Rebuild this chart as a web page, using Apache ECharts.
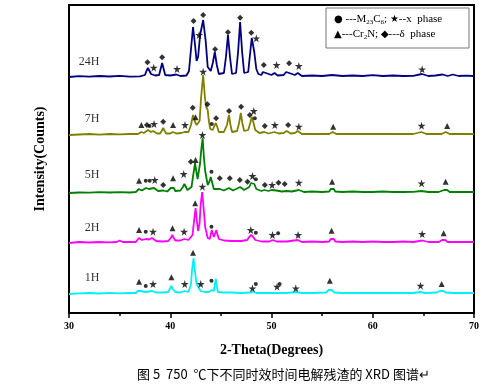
<!DOCTYPE html>
<html><head><meta charset="utf-8">
<script src="https://cdn.jsdelivr.net/npm/echarts@6/dist/echarts.min.js"></script>
<style>html,body{margin:0;padding:0;background:#fff}#c{width:500px;height:384px}</style>
</head><body><div id="c"></div>
<script>
// ---- data ----
const samples = ['1H', '2H', '5H', '7H', '24H'];
const offsets = [19, 70, 120, 178, 236];           // vertical stacking offset (intensity units)
const labelHeights = [15.7, 14.7, 18, 15.7, 15];    // sample label height above baseline
const colors = ['#00F0F8', '#FF00FF', '#008000', '#808000', '#000080'];
const xTicks = [30, 40, 50, 60, 70];

const pattern1H = [[30,0],[31,0.6],[32,1],[33,0.5],[34,1.2],[35,0.6],[36,1],[36.6,1],[36.8,3],[36.9,5],[37.05,3],[37.2,1.5],[37.6,2],[38.2,3],[38.6,1.5],[39.3,1.5],[39.8,2],[39.95,5],[40.1,8],[40.25,5],[40.5,2],[41,1.5],[41.4,3],[41.8,2],[42.05,10],[42.15,24],[42.3,36],[42.45,22],[42.6,10],[43,3],[43.4,2],[43.8,2],[44.1,4],[44.3,3],[44.4,9],[44.5,15],[44.6,8],[44.7,2],[45.3,1.5],[46,1.5],[47,1],[48,1.5],[48.2,2.5],[48.5,1],[49.5,1],[50.5,1],[51.5,1],[52.4,2],[53,1],[54,1],[55.4,1.5],[55.65,4],[55.8,6],[55.95,4],[56.2,1.5],[57,1],[58,1],[59,1],[60,1],[61,1],[62,1],[63,1],[64,1],[64.7,2],[65.2,1],[66.3,1.5],[66.65,3],[66.8,4],[66.95,3],[67.2,1.5],[68,1],[69,1],[70,1]];
const pattern2H = [[30,0],[31,1],[32,0.5],[33,1],[34,0.6],[34.7,1],[35,2.5],[35.3,1],[36,1],[36.6,1],[36.9,5],[37.2,3],[37.6,4],[37.9,3.5],[38.2,5],[38.6,2],[39.2,1.5],[39.8,2],[40.05,5],[40.2,8],[40.35,5],[40.5,2.5],[41,2.5],[41.4,4],[41.8,3],[42.2,8],[42.35,22],[42.5,35],[42.65,20],[42.75,12],[42.9,20],[43.0,38],[43.15,51],[43.3,34],[43.45,16],[43.7,5],[43.9,4],[44.1,13],[44.3,6],[44.45,10],[44.55,13],[44.65,9],[44.8,4],[45.3,2.5],[46,2],[47,2],[47.6,3],[47.8,6],[48,8],[48.2,6],[48.4,3],[49,1.5],[49.8,1.5],[50.1,3],[50.5,1.5],[51.5,1.5],[52.6,3],[53,1],[54,1.5],[55,1],[55.7,1.5],[55.85,4],[56,6],[56.15,4],[56.3,1.5],[57,1],[58,1.5],[59,1],[60,1.5],[61,1],[62,1],[63,1.5],[64,1],[64.9,2.5],[65.5,1],[66.5,1],[66.85,3],[67,4],[67.15,3],[67.4,1],[68.5,1.2],[70,1]];
const pattern5H = [[30,0],[31,0.5],[32,0.3],[33,0.8],[34,0.5],[35,0.8],[36,0.5],[36.6,1],[36.9,4],[37.2,2.5],[37.6,5],[37.9,4],[38.4,5],[38.8,2],[39.3,2.5],[39.7,1.5],[40.05,5],[40.2,7],[40.35,5],[40.5,2],[41,2.5],[41.25,6],[41.4,9],[41.55,6],[41.7,3],[42.1,6],[42.3,20],[42.45,30],[42.6,20],[42.7,14],[42.95,30],[43.05,42],[43.2,55],[43.32,36],[43.45,22],[43.7,8],[43.85,11],[44,16],[44.15,10],[44.3,4],[44.9,4],[45.3,2.5],[45.8,5],[46.2,2.5],[46.9,6],[47.3,3],[47.8,6],[47.98,10],[48.15,12],[48.3,9],[48.5,4],[49,2],[49.3,3],[49.7,2],[50,3],[50.5,2.5],[51,1.5],[51.5,2],[52,1.5],[52.7,3],[53.2,1],[54,1.5],[55,1],[55.7,1.5],[55.85,4],[56,6],[56.15,4],[56.3,1.5],[57,1],[58,1.5],[59,1],[60,1],[61,1.5],[62,1],[63,1],[64,1.2],[64.8,2],[65.5,1],[66.5,1],[67.05,3],[67.2,4],[67.35,3],[67.6,1],[68.5,1],[70,1]];
const pattern7H = [[30,0],[31,0.5],[32,1],[33,0.4],[34,1],[35,0.6],[36,1],[36.8,1],[37.15,3],[37.4,2],[37.8,5],[38.1,3],[38.3,4],[38.7,1.5],[39,1.5],[39.15,4],[39.3,7],[39.45,4],[39.6,1.5],[40,1.5],[40.25,3],[40.6,1.5],[41.1,2],[41.4,3],[41.8,3],[42.05,10],[42.25,20],[42.45,13],[42.6,10],[42.9,14],[43.05,38],[43.25,60],[43.42,38],[43.55,28],[43.7,25],[43.8,15],[43.95,6],[44.2,5],[44.35,9],[44.5,12],[44.65,8],[44.8,3],[45.3,3],[45.6,10],[45.8,20],[45.95,10],[46.1,3],[46.6,4],[46.8,12],[46.97,22],[47.12,12],[47.3,4],[47.7,5],[47.9,12],[48.05,18],[48.2,13],[48.4,5],[48.8,2],[49.3,3],[49.7,1.5],[50.3,3],[50.7,1.5],[51.2,2],[51.5,4],[51.9,1.5],[52.3,2],[52.6,4],[53,1],[54,1],[55,1],[55.7,1],[56.05,3],[56.4,1],[57,1],[58,1],[59,1],[60,1],[61,1],[62,1],[63,1],[64,1],[64.8,3],[65.3,1],[66,1],[66.8,1],[67.2,3],[67.6,1],[68.5,1],[70,1]];
const pattern24H = [[30,0],[31,0.8],[32,0.3],[33,1],[34,0.5],[35,1.2],[36,0.4],[37,0.6],[37.5,2],[37.65,6],[37.8,9],[37.95,6],[38.1,3],[38.5,1.5],[38.9,2],[39.05,8],[39.2,14],[39.35,8],[39.5,2],[40,1.5],[40.6,2.5],[41,1],[41.6,1.5],[41.85,6],[42.05,28],[42.25,50],[42.45,32],[42.6,16],[42.75,20],[42.95,42],[43.25,57],[43.5,36],[43.7,10],[44,6],[44.2,14],[44.4,25],[44.6,12],[44.8,3],[45.3,4],[45.5,20],[45.7,42],[45.9,20],[46.1,3],[46.5,4],[46.7,25],[46.9,55],[47.1,25],[47.3,4],[47.7,5],[47.85,20],[48.05,39],[48.3,25],[48.5,8],[48.7,3],[49,2],[49.15,5],[49.3,7],[49.45,4],[49.6,2],[50,2],[50.3,4],[50.6,1.5],[51.2,2],[51.45,5],[51.6,7],[51.75,4],[51.9,2],[52.3,2],[52.6,4],[53,1],[54,1.5],[55,1],[56,2],[57,1],[58,1.5],[59,1],[60,1.8],[61,1],[62,1.5],[63,1],[64,1.2],[64.85,3],[65.5,1],[66.2,1.5],[66.9,2.5],[67.4,1],[67.9,2.5],[68.5,1],[69.2,1.3],[70,1]];
const patterns = [pattern1H, pattern2H, pattern5H, pattern7H, pattern24H];

// phase markers: [2theta, height above baseline, type] o=M23C6, s=x phase, t=Cr2N, d=delta phase
const markers1H = [[36.92,12.3,'t'],[37.58,8,'o'],[38.3,10,'s'],[40.12,16.7,'t'],[41.43,10,'s'],[42.25,41.3,'t'],[43.01,10,'s'],[44.07,13.3,'o'],[48.12,5.7,'s'],[48.45,10,'o'],[50.55,7.3,'s'],[50.8,10,'o'],[52.4,5.7,'s'],[55.76,13.3,'t'],[64.72,8.3,'s'],[66.8,10,'t']];
const markers2H = [[36.92,13,'t'],[37.58,11.3,'o'],[38.3,11.3,'s'],[40.22,14.7,'t'],[41.37,11.3,'s'],[42.46,39.7,'t'],[43.18,56.3,'s'],[44.07,16.3,'o'],[47.95,13,'s'],[48.45,10.3,'o'],[50.1,8,'s'],[50.65,9.7,'o'],[52.63,8,'s'],[55.93,12.3,'t'],[64.88,9,'s'],[67.0,9.7,'t']];
const markers5H = [[36.92,12.3,'t'],[37.58,12.3,'o'],[37.97,12.3,'o'],[38.47,13,'s'],[39.3,8,'d'],[40.28,14.7,'t'],[41.33,19,'s'],[42.03,31.3,'d'],[42.5,33,'t'],[43.18,58,'s'],[44.07,21.3,'o'],[44.89,14.7,'d'],[45.88,14.7,'d'],[46.87,13,'d'],[47.63,11.3,'d'],[48.12,17,'s'],[48.45,13.7,'o'],[49.34,8,'d'],[50.06,8,'s'],[50.69,10.3,'d'],[51.3,9,'d'],[52.7,10.3,'s'],[55.99,11.3,'t'],[64.82,9.7,'s'],[67.2,11.3,'t']];
const markers7H = [[37.15,10,'t'],[37.7,10,'d'],[37.95,9,'o'],[38.4,11,'s'],[39.3,13.3,'d'],[40.28,10,'t'],[41.46,10,'s'],[42.22,27.3,'d'],[42.5,17.7,'t'],[43.25,63.3,'s'],[43.67,30.7,'d'],[44.1,11,'o'],[44.53,16.7,'d'],[45.81,24,'d'],[47.0,28.3,'d'],[47.86,20,'d'],[48.25,24,'s'],[48.35,16.7,'o'],[49.34,9,'d'],[50.33,10,'s'],[51.64,10,'d'],[52.7,8.3,'s'],[56.09,8.3,'t'],[64.82,9.3,'s'],[67.35,9,'t']];
const markers24H = [[37.75,14.7,'d'],[38.37,9.3,'s'],[39.2,19.7,'d'],[40.67,8,'s'],[42.3,56,'d'],[42.85,42,'s'],[43.25,62,'d'],[44.43,27.7,'d'],[45.7,44.7,'d'],[46.9,59.3,'d'],[48.0,44.3,'d'],[48.5,38.7,'s'],[49.24,12,'d'],[50.5,12,'s'],[51.74,13.7,'d'],[52.7,11,'s'],[64.88,7.7,'s']];
const markerSets = [markers1H, markers2H, markers5H, markers7H, markers24H];

const xAxisName = '2-Theta(Degrees)';
const yAxisName = 'Intensity(Counts)';
const caption = '图 5  750  ℃下不同时效时间电解残渣的 XRD 图谱↵';

// ---- build ----
const STAR = 'path://M50,0 L61,35 L98,35 L68,57 L79,91 L50,70 L21,91 L32,57 L2,35 L39,35 Z';
const symbolDefs = {
  o: { symbol: 'circle', size: 4 },
  s: { symbol: STAR, size: 8 },
  t: { symbol: 'triangle', size: 6 },
  d: { symbol: 'diamond', size: 6 }
};

const series = [];
patterns.forEach((p, i) => {
  series.push({
    type: 'line', name: samples[i],
    data: p.map(d => [d[0], d[1] + offsets[i]]),
    showSymbol: false, symbol: 'none',
    lineStyle: { color: colors[i], width: 1.8 },
    z: 2 + i, silent: true
  });
});
Object.keys(symbolDefs).forEach(k => {
  const data = [];
  markerSets.forEach((ms, i) => ms.forEach(m => { if (m[2] === k) data.push([m[0], m[1] + offsets[i]]); }));
  series.push({
    type: 'scatter', data,
    symbol: symbolDefs[k].symbol, symbolSize: symbolDefs[k].size,
    itemStyle: { color: '#000' }, z: 20, silent: true
  });
});
series.push({
  type: 'scatter', symbolSize: 0, z: 21, silent: true,
  data: samples.map((s, i) => ({ value: [33, offsets[i] + labelHeights[i]], name: s })),
  label: { show: true, position: 'inside', align: 'right', formatter: p => p.name,
    fontFamily: 'Liberation Serif', fontSize: 12, color: '#000' }
});

const chart = echarts.init(document.getElementById('c'), null, { renderer: 'canvas' });
chart.setOption({
  animation: false,
  backgroundColor: '#fff',
  grid: { left: 69, right: 26, top: 5, bottom: 71, show: true, borderColor: '#000', borderWidth: 2, containLabel: false, outerBoundsMode: 'none' },
  xAxis: {
    type: 'value', min: xTicks[0], max: xTicks[xTicks.length - 1], interval: 10,
    axisLine: { lineStyle: { color: '#000', width: 2 } },
    axisTick: { length: 5, lineStyle: { color: '#000', width: 1.5 } },
    minorTick: { show: true, splitNumber: 2, length: 3, lineStyle: { color: '#000', width: 1.5 } },
    axisLabel: { color: '#000', fontFamily: 'Liberation Serif', fontWeight: 'bold', fontSize: 10, margin: 8 },
    splitLine: { show: false },
    name: xAxisName, nameLocation: 'middle', nameGap: 30,
    nameTextStyle: { color: '#000', fontFamily: 'Liberation Serif', fontWeight: 'bold', fontSize: 14 }
  },
  yAxis: {
    type: 'value', min: 0, max: 308,
    axisLine: { show: true, lineStyle: { color: '#000', width: 2 } },
    axisTick: { show: false }, axisLabel: { show: false }, splitLine: { show: false },
    name: yAxisName, nameLocation: 'middle', nameGap: 22,
    nameTextStyle: { color: '#000', fontFamily: 'Liberation Serif', fontWeight: 'bold', fontSize: 14 }
  },
  series,
  graphic: [
    { type: 'rect', shape: { x: 326, y: 8, width: 143, height: 40 },
      style: { fill: '#fff', stroke: '#777', lineWidth: 1 }, z: 30 },
    { type: 'text', left: 334, top: 12, z: 31,
      style: { text: '{m|●} ---M{s|23}C{s|6}; {m|★}--x  phase', fill: '#000',
        font: '11px "Liberation Serif"', lineHeight: 14,
        rich: { s: { fontSize: 7, verticalAlign: 'bottom', lineHeight: 8, fontFamily: 'Liberation Serif' },
                m: { fontSize: 10, fontFamily: 'DejaVu Sans' } } } },
    { type: 'text', left: 334, top: 27, z: 31,
      style: { text: '{m|▲}---Cr{s|2}N; {m|◆}---δ  phase', fill: '#000',
        font: '11px "Liberation Serif"', lineHeight: 14,
        rich: { s: { fontSize: 7, verticalAlign: 'bottom', lineHeight: 8, fontFamily: 'Liberation Serif' },
                m: { fontSize: 10, fontFamily: 'DejaVu Sans' } } } },
    { type: 'text', left: 137, top: 368, z: 31,
      style: { text: caption, fill: '#000', font: '13px "Noto Sans CJK SC"' } }
  ]
});
</script></body></html>
